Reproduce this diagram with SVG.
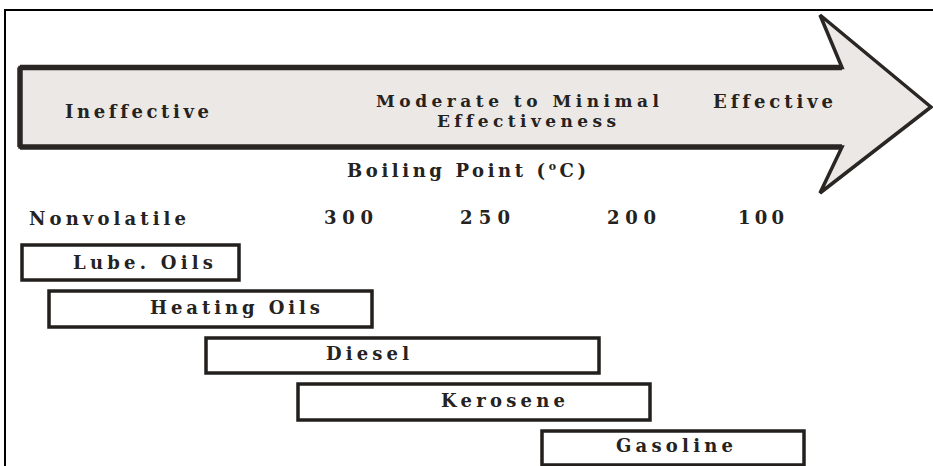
<svg xmlns="http://www.w3.org/2000/svg" width="933" height="466" viewBox="0 0 933 466">
  <style>
    .t { font-family: "DejaVu Serif", "Liberation Serif", serif; font-weight: bold; font-size: 18px; fill: #252220; font-variant-ligatures: none; }
    .s { font-size: 17px; }
    .box { fill: #ffffff; stroke: #221f1d; stroke-width: 3.5; }
    .frame { stroke: #000; stroke-width: 2; fill: none; }
  </style>
  <rect width="933" height="466" fill="#ffffff"/>
  <path class="frame" d="M5 466 V10 H933"/>

  <g id="arrow">
    <path d="M20 67.5 H842 L820 15 L931 107 L820 193 L842 147 H20 Z" fill="#ebe8e5" stroke="#2a2623" stroke-width="3.5" stroke-linejoin="miter"/>
    <path d="M20 67.5 H842 M20 147 H842 M20 67.5 V147" stroke="#2a2623" stroke-width="5.5" fill="none"/>
    <text class="t" x="65" y="118" textLength="144" lengthAdjust="spacing">Ineffective</text>
    <text class="t s" x="376" y="107" textLength="283" lengthAdjust="spacing">Moderate to Minimal</text>
    <text class="t s" x="437" y="127" textLength="179" lengthAdjust="spacing">Effectiveness</text>
    <text class="t" x="713" y="108" textLength="120" lengthAdjust="spacing">Effective</text>
  </g>

  <g id="axis-labels">
    <text class="t" x="347" y="177" textLength="239" lengthAdjust="spacing">Boiling Point (<tspan font-size="11" dy="-7">o</tspan><tspan dy="7">C)</tspan></text>
    <text class="t" x="29" y="225" textLength="157" lengthAdjust="spacing">Nonvolatile</text>
    <text class="t" x="324" y="224" textLength="49" lengthAdjust="spacing">300</text>
    <text class="t" x="460" y="224" textLength="50" lengthAdjust="spacing">250</text>
    <text class="t" x="607" y="224" textLength="49" lengthAdjust="spacing">200</text>
    <text class="t" x="738" y="224" textLength="46" lengthAdjust="spacing">100</text>
  </g>

  <g id="lube-oils">
    <rect class="box" x="22" y="245" width="217" height="35"/>
    <text class="t" x="73" y="269" textLength="140" lengthAdjust="spacing">Lube. Oils</text>
  </g>
  <g id="heating-oils">
    <rect class="box" x="49" y="291" width="323" height="36"/>
    <text class="t" x="150" y="314" textLength="170" lengthAdjust="spacing">Heating Oils</text>
  </g>
  <g id="diesel">
    <rect class="box" x="206" y="338" width="393" height="35"/>
    <text class="t" x="326" y="360" textLength="83" lengthAdjust="spacing">Diesel</text>
  </g>
  <g id="kerosene">
    <rect class="box" x="298" y="384" width="352" height="36"/>
    <text class="t" x="441" y="407" textLength="124" lengthAdjust="spacing">Kerosene</text>
  </g>
  <g id="gasoline">
    <rect class="box" x="542" y="431" width="262" height="34"/>
    <text class="t" x="616" y="452" textLength="117" lengthAdjust="spacing">Gasoline</text>
  </g>
</svg>
